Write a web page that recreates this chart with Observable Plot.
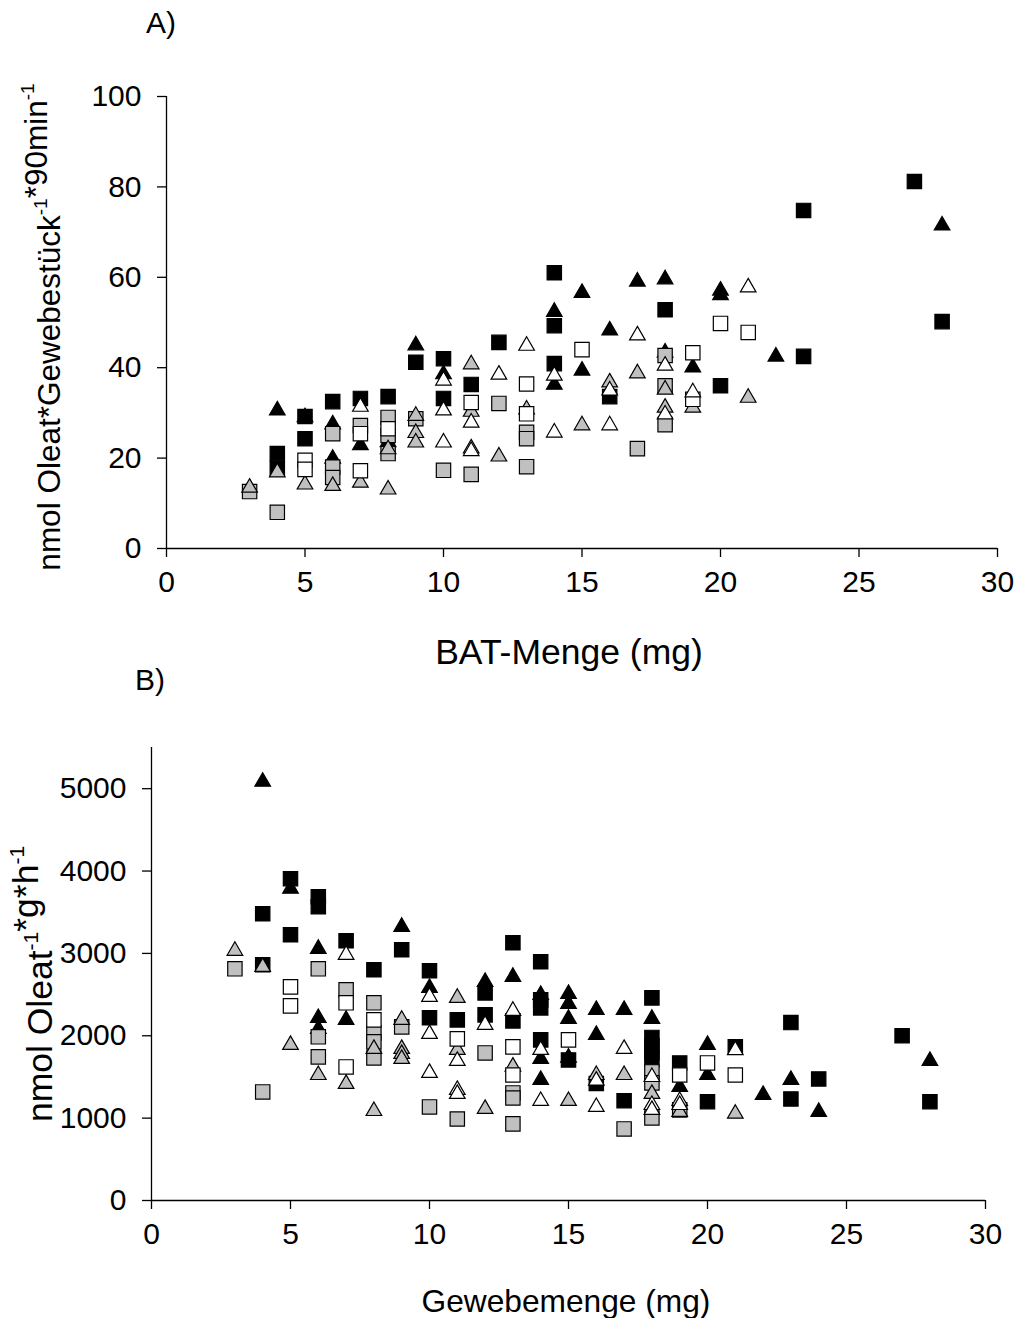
<!DOCTYPE html>
<html><head><meta charset="utf-8">
<script src="https://cdn.jsdelivr.net/npm/d3@7"></script>
<script src="https://cdn.jsdelivr.net/npm/@observablehq/plot@0.6"></script>
<style>body{margin:0;background:#fff} svg{display:block}</style>
</head><body><div id="chart"></div>
<script>
const xTicks = [0,5,10,15,20,25,30];
const yTicksA = [0,20,40,60,80,100];
const yTicksB = [0,1000,2000,3000,4000,5000];

// Panel A: BAT-Menge (mg) vs nmol Oleat per Gewebestück per 90 min
const A_blackSquare = [[4,21],[4,17.7],[5,29.2],[5,24.3],[6,32.5],[7,33.2],[8,33.6],[9,41.2],[10,42],[10,33.2],[11,36.3],[12,45.6],[14,61],[14,49.3],[14,40.9],[16,33.6],[18,52.8],[20,36],[23,74.8],[23,42.5],[27,81.2],[28,50.2]];
const A_blackTriangle = [[4,31],[5,29.5],[6,27.9],[6,20.3],[7,23.3],[8,24],[9,45.4],[10,39],[14,52.8],[14,36.7],[15,57],[15,39.8],[16,48.7],[17,59.5],[18,60],[18,43.8],[19,40.5],[20,57.5],[20,56.5],[22,42.9],[28,71.9]];
const A_graySquare = [[3,12.6],[4,8],[6,25.4],[6,18],[6,15.7],[7,27.2],[8,29],[8,25],[8,21],[9,28.7],[10,17.3],[11,16.4],[12,32.1],[13,25.7],[13,24.3],[13,18.1],[17,22.1],[18,42.7],[18,36],[18,27.4]];
const A_grayTriangle = [[3,13.9],[4,17.3],[5,14.6],[6,14.3],[7,15],[8,22.4],[8,13.5],[9,29.8],[9,26],[9,23.9],[11,41.2],[11,30.7],[12,20.8],[13,31.2],[15,27.7],[16,37.2],[17,39.2],[18,35.6],[18,31.6],[19,31.6],[21,33.8]];
const A_whiteSquare = [[5,19.5],[5,17.5],[7,25.4],[7,17.2],[8,26.5],[11,32.3],[13,36.4],[13,29.8],[15,44],[19,43.3],[19,33],[20,49.8],[21,47.8]];
const A_whiteTriangle = [[7,31.8],[10,37.6],[10,31],[10,23.9],[11,28.3],[11,22.6],[11,22],[12,38.9],[13,45.3],[14,38.7],[14,26.1],[16,35.4],[16,27.7],[17,47.6],[18,40.9],[18,30.1],[19,35],[21,58.2]];

// Panel B: Gewebemenge (mg) vs nmol Oleat per g per h
const B_blackSquare = [[4,3481],[4,2862],[5,3906],[5,3226],[6,3688],[6,3567],[7,3153],[8,2801],[9,3044],[10,2789],[10,2218],[11,2193],[12,2521],[12,2254],[13,3129],[13,2181],[14,2898],[14,2436],[14,2339],[14,1950],[15,1707],[16,1420],[17,1212],[18,2460],[18,1980],[18,1880],[18,1790],[18,1710],[19,1670],[20,1200],[21,1865],[23,2160],[23,1233],[24,1476],[27,2001],[28,1200]];
const B_blackTriangle = [[4,5109],[5,3810],[6,3080],[6,2240],[6,2108],[7,2218],[9,3347],[10,2606],[12,2679],[13,2740],[14,2521],[14,1744],[14,1488],[15,2533],[15,2412],[15,2230],[15,1760],[16,2339],[16,2035],[17,2339],[18,2230],[19,1403],[20,1913],[20,1548],[22,1306],[23,1488],[24,1100],[28,1719]];
const B_graySquare = [[3,2813],[4,1318],[6,2813],[6,1987],[6,1744],[7,2558],[8,2400],[8,2035],[8,1926],[8,1731],[9,2108],[10,1136],[11,990],[12,1792],[13,1306],[13,1245],[13,930],[17,869],[18,1561],[18,1428],[18,1002],[19,1100]];
const B_grayTriangle = [[3,3056],[4,2860],[5,1914],[6,1548],[7,1440],[8,1865],[8,1111],[9,2218],[9,1865],[9,1804],[9,1744],[11,2485],[11,1853],[12,1136],[13,1650],[15,1233],[16,1548],[17,1548],[18,1318],[19,1100],[21,1078]];
const B_whiteSquare = [[5,2594],[5,2363],[7,2400],[7,1622],[8,2193],[11,1962],[13,1865],[13,1524],[15,1950],[19,1524],[20,1670],[21,1524]];
const B_whiteTriangle = [[7,3007],[10,2497],[10,2047],[10,1573],[11,1719],[11,1367],[11,1318],[12,2157],[13,2327],[14,1853],[14,1233],[16,1480],[16,1160],[17,1865],[18,1524],[18,1184],[18,1124],[19,1233],[19,1184],[21,1850]];

const FONT = "'Liberation Sans', Arial, Helvetica, sans-serif";
const GRAY = "#c0c0c0";

function dots(data, symbol, fill) {
  const sq = symbol === "square";
  return Plot.dot(data, {
    x: d => d[0], y: d => d[1], symbol, fill,
    r: sq ? 8.1 : 5.8, dy: sq ? 0 : 2,
    stroke: "#000", strokeWidth: 1.2
  });
}

function panel(opts) {
  const svg = Plot.plot({
    width: 1018, height: opts.height,
    marginTop: opts.mt, marginBottom: opts.mb, marginLeft: opts.ml, marginRight: opts.mr,
    style: {fontFamily: FONT, fontSize: "30px", color: "#000", background: "#fff", overflow: "visible"},
    x: {domain: [0, 30]},
    y: {domain: opts.ydomain},
    marks: [
      Plot.axisX({ticks: xTicks, tickSize: 9, tickPadding: 13, fontSize: 30, label: null, strokeWidth: 1.3, tickFormat: d3.format("d")}),
      Plot.axisY({ticks: opts.yticks, tickSize: 9, tickPadding: 16, fontSize: 30, label: null, strokeWidth: 1.3, tickFormat: d3.format("d")}),
      Plot.ruleX([0], {strokeWidth: 1.3}),
      Plot.ruleY([0], {strokeWidth: 1.3}),
      dots(opts.s[0], "square", "#000"),
      dots(opts.s[1], "triangle", "#000"),
      dots(opts.s[2], "square", GRAY),
      dots(opts.s[3], "triangle", GRAY),
      dots(opts.s[4], "square", "#fff"),
      dots(opts.s[5], "triangle", "#fff")
    ]
  });
  const g = d3.select(svg).append("g").attr("font-family", FONT).attr("fill", "#000");
  g.append("text").attr("x", opts.tag[1]).attr("y", opts.tag[2]).attr("font-size", 30)
    .attr("text-anchor", "start").text(opts.tag[0]);
  g.append("text").attr("x", opts.xlab[1]).attr("y", opts.xlab[2]).attr("font-size", opts.xlab[3])
    .attr("text-anchor", "middle").text(opts.xlab[0]);
  const fs = opts.ylab[3];
  const yl = g.append("text").attr("font-size", fs).attr("text-anchor", "middle")
    .attr("transform", `translate(${opts.ylab[1]},${opts.ylab[2]}) rotate(-90)`);
  const sfs = Math.round(fs * 0.6), sdy = Math.round(fs * 0.4);
  opts.ylab[0].forEach(([t, sup]) => {
    if (sup) {
      yl.append("tspan").attr("font-size", sfs).attr("dy", -sdy).text(t);
      yl.append("tspan").attr("dy", sdy).text("");
    } else {
      yl.append("tspan").text(t);
    }
  });
  return svg;
}

const chart = document.getElementById("chart");
chart.appendChild(panel({
  height: 670, mt: 96, mb: 122, ml: 166, mr: 21,
  ydomain: [0, 100], yticks: yTicksA,
  s: [A_blackSquare, A_blackTriangle, A_graySquare, A_grayTriangle, A_whiteSquare, A_whiteTriangle],
  tag: ["A)", 146, 33],
  xlab: ["BAT-Menge (mg)", 569, 664, 35.5],
  ylab: [[["nmol Oleat*Gewebestück"], ["-1", true], ["*90min"], ["-1", true]], 60, 327, 31.5]
}));
chart.appendChild(panel({
  height: 648, mt: 77, mb: 118, ml: 151, mr: 33,
  ydomain: [0, 5500], yticks: yTicksB,
  s: [B_blackSquare, B_blackTriangle, B_graySquare, B_grayTriangle, B_whiteSquare, B_whiteTriangle],
  tag: ["B)", 135, 20],
  xlab: ["Gewebemenge (mg)", 566, 642, 31.7],
  ylab: [[["nmol Oleat"], ["-1", true], ["*g*h"], ["-1", true]], 52, 314, 35.5]
}));
</script></body></html>
